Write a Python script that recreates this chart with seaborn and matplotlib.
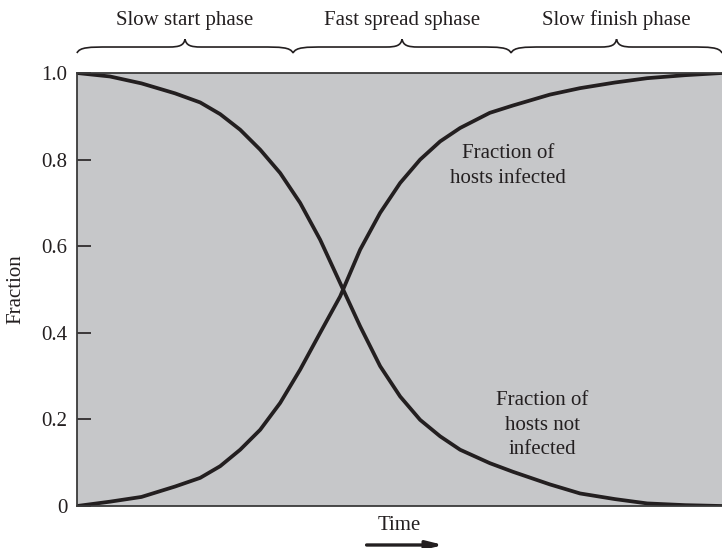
"""
Worm propagation model: fraction of hosts infected vs not infected over time.
Saves out.png (722x548).
"""

import pandas as pd
import matplotlib.pyplot as plt
from matplotlib.path import Path
from matplotlib.patches import PathPatch
import seaborn as sns

# ---------------------------------------------------------------------------
# DATA (time is in arbitrary units 0..1)
# ---------------------------------------------------------------------------
time = [0.000, 0.051, 0.100, 0.152, 0.191, 0.222, 0.253, 0.284, 0.315,
        0.346, 0.377, 0.408, 0.439, 0.470, 0.501, 0.532, 0.563, 0.594,
        0.640, 0.676, 0.733, 0.780, 0.834, 0.884, 0.943, 1.000]
infected = [0.000, 0.010, 0.021, 0.045, 0.065, 0.092, 0.130, 0.176, 0.238,
            0.315, 0.400, 0.484, 0.592, 0.677, 0.746, 0.800, 0.842, 0.873,
            0.908, 0.925, 0.950, 0.965, 0.978, 0.988, 0.995, 1.000]
not_infected = [1.000, 0.992, 0.976, 0.953, 0.932, 0.905, 0.869, 0.823,
                0.769, 0.700, 0.615, 0.515, 0.415, 0.323, 0.253, 0.199,
                0.161, 0.130, 0.099, 0.079, 0.050, 0.029, 0.016, 0.006,
                0.002, 0.000]

phase_edges = [0.0, 0.335, 0.673, 1.0]
phase_labels = ["Slow start phase", "Fast spread sphase", "Slow finish phase"]

ytick_values = [0.0, 0.2, 0.4, 0.6, 0.8, 1.0]
ytick_labels = ["0", "0.2", "0.4", "0.6", "0.8", "1.0"]

INK = "#231f20"
FILL = "#c6c7c9"
FS = 15

# ---------------------------------------------------------------------------
# STYLE
# ---------------------------------------------------------------------------
sns.set_theme(style="white")
plt.rcParams["font.family"] = ["Liberation Serif", "DejaVu Serif"]
plt.rcParams["text.color"] = INK

df = pd.DataFrame({
    "time": time * 2,
    "fraction": infected + not_infected,
    "series": ["infected"] * len(time) + ["not infected"] * len(time),
})

fig = plt.figure(figsize=(7.22, 5.48), dpi=100)
ax = fig.add_axes([0.1066, 0.0766, 0.8934, 0.7902])
ax.set_facecolor(FILL)

sns.lineplot(data=df, x="time", y="fraction", units="series",
             estimator=None, sort=False, color=INK, linewidth=2.7,
             legend=False, ax=ax, solid_joinstyle="round",
             solid_capstyle="round")

ax.set_xlim(0, 1)
ax.set_ylim(0, 1)
ax.set_xticks([])
ax.set_yticks(ytick_values)
ax.set_yticklabels(ytick_labels)
ax.tick_params(axis="y", direction="in", length=10, width=1.2,
               color=INK, labelsize=FS, pad=7, left=True, labelcolor=INK)

for side in ["left", "top", "bottom"]:
    ax.spines[side].set_color("#3a3a3a")
    ax.spines[side].set_linewidth(1.3)
ax.spines["right"].set_visible(False)

ax.set_ylabel("Fraction", fontsize=FS, labelpad=11, color=INK)
ax.set_xlabel("Time", fontsize=FS, labelpad=7, color=INK)

# Arrow under the Time label
ax.annotate("", xy=(0.568, -0.090), xytext=(0.449, -0.090),
            xycoords="data", annotation_clip=False,
            arrowprops=dict(arrowstyle="-|>,head_length=0.8,head_width=0.2",
                            color=INK, lw=2.4, shrinkA=0, shrinkB=0))

# Curve labels
ax.text(0.668, 0.785, "Fraction of\nhosts infected", ha="center",
        va="center", fontsize=FS, linespacing=1.4)
ax.text(0.722, 0.187, "Fraction of\nhosts not\ninfected", ha="center",
        va="center", fontsize=FS, linespacing=1.4)


# Curly braces above the plot
def draw_brace(ax, x0, x1, y0=1.046, y1=1.060, y2=1.078):
    xm = (x0 + x1) / 2
    verts = [
        (x0, y0),
        (x0 + 0.004, y1), (x0 + 0.02, y1), (x0 + 0.05, y1),
        (xm - 0.025, y1),
        (xm - 0.008, y1), (xm - 0.002, y1 + 0.004), (xm, y2),
        (xm + 0.002, y1 + 0.004), (xm + 0.008, y1), (xm + 0.025, y1),
        (x1 - 0.05, y1),
        (x1 - 0.02, y1), (x1 - 0.004, y1), (x1, y0),
    ]
    codes = [Path.MOVETO,
             Path.CURVE4, Path.CURVE4, Path.CURVE4,
             Path.LINETO,
             Path.CURVE4, Path.CURVE4, Path.CURVE4,
             Path.CURVE4, Path.CURVE4, Path.CURVE4,
             Path.LINETO,
             Path.CURVE4, Path.CURVE4, Path.CURVE4]
    patch = PathPatch(Path(verts, codes), facecolor="none", edgecolor=INK,
                      lw=1.2, clip_on=False)
    ax.add_patch(patch)
    return xm


for i, label in enumerate(phase_labels):
    xm = draw_brace(ax, phase_edges[i], phase_edges[i + 1])
    ax.text(xm, 1.122, label, ha="center", va="center", fontsize=FS,
            clip_on=False)

fig.savefig("out.png", dpi=100)
print("Saved out.png")
